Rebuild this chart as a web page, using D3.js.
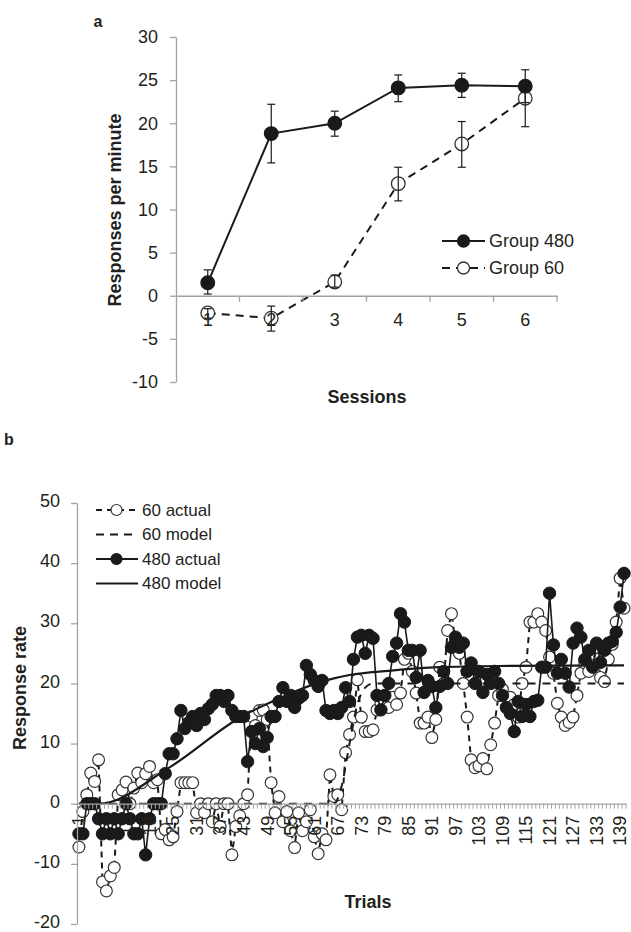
<!DOCTYPE html>
<html>
<head>
<meta charset="utf-8">
<script src="https://cdn.jsdelivr.net/npm/d3@7"></script>
<style>
body{margin:0;background:#fff;}
text{font-family:"Liberation Sans",Arial,sans-serif;fill:#231f20;}
</style>
</head>
<body>
<svg id="chart" width="631" height="932"></svg>
<script>
// panel a: session means with error bars
const sessions = [1, 2, 3, 4, 5, 6];
const g480Mean = [1.5, 18.8, 20.0, 24.1, 24.4, 24.3];
const g480Lo = [0.2, 15.4, 18.5, 22.5, 23.0, 22.4];
const g480Hi = [3.0, 22.2, 21.4, 25.6, 25.8, 26.2];
const g60Mean = [-2.0, -2.6, 1.6, 13.0, 17.6, 22.9];
const g60Lo = [-2.6, -4.1, 1.0, 11.0, 14.9, 19.6];
const g60Hi = [-1.5, -1.2, 2.4, 14.9, 20.2, 24.5];
const yTicksA = [-10, -5, 0, 5, 10, 15, 20, 25, 30];

// panel b: trial by trial
const trials = d3.range(1, 141);
const trialLabels = [1, 7, 13, 19, 25, 31, 37, 43, 49, 55, 61, 67, 73, 79, 85, 91, 97, 103, 109, 115, 121, 127, 133, 139];
const yTicksB = [-20, -10, 0, 10, 20, 30, 40, 50];
const act60 = [
  -7.2, -1.3, 1.5, 5.1, 3.7, 7.3, -13, -14.5, -12, -10.6,
  1.5, 2.3, 3.6, 0, 2.6, 5.1, 3.5, 5, 6.2, 3.5,
  4, -5, -4.3, -6, -5.5, -1.3, 3.5, 3.5, 3.5, 3.5,
  -1.5, 0, -1.5, 0, -3, 0, -3.8, 0, 0, -8.5,
  -3.8, -2, 0, 1.5, 14.5, 13, 15.5, 15.6, 14, 3.5,
  -1.5, 1.2, -3, -1.3, -4.5, -7.3, -1.5, -4.5, -3, -1,
  -5.5, -8.3, -5, -6, 4.8, 1.2, 1.5, -1, 8.5, 11.5,
  14.4, 20.6, 14.4, 12, 12, 12.3, 15.6, 16.7, 18, 16,
  17.7, 16.5, 18.4, 24, 25, 22, 18.4, 13.4, 13.4, 14.4,
  11, 14, 22.7, 20, 28.8, 31.6, 27, 25, 20, 14.4,
  7.3, 6, 6.3, 7.5, 5.8, 9.8, 13.4, 18, 19, 16,
  17.7, 16.5, 14.4, 20, 22.7, 30.2, 30.2, 31.6, 30.2, 28.8,
  24.4, 21.7, 16.7, 14.4, 13, 13.5, 14.4, 18, 21.7, 23.4,
  22, 23, 26, 21, 20.3, 24, 26.5, 30.2, 37.5, 32.5
];
const act480 = [
  -5, -5, 0, 0, 0, -2.5, -5, -2.5, -5, -2.5,
  -5, -2.5, 0, -2.5, -5, -5, -2.5, -8.5, -2.5, 0,
  0, 0, 5, 8.3, 8.3, 10.8, 15.5, 12.5, 13.5, 14.5,
  13, 15, 14, 15.8, 16.5, 18, 18, 17, 18, 15.5,
  14.5, 14.5, 14.5, 7, 12, 10, 12.5, 9.5, 11, 14.5,
  14.5, 17, 19.3, 17, 18, 16, 17.5, 18, 23, 21.5,
  20.5, 19.5, 20.5, 15.5, 15, 15.5, 15, 16, 19.3, 17,
  24, 27.7, 28, 25, 28, 27.5, 18, 15.6, 18, 20,
  24.5, 26.7, 31.6, 30.2, 25.5, 25.5, 21, 25.5, 18.5, 20.5,
  19.5, 16, 19.5, 22, 20, 26, 27.7, 26, 26.7, 22,
  23.4, 20, 22, 18.5, 21.5, 20, 22, 20, 18, 16,
  15, 12, 17, 14.5, 16.5, 14.5, 17, 17.2, 22.7, 22.7,
  35, 26.4, 21.7, 24, 21.7, 19.4, 26.7, 29.2, 27.7, 24,
  25.5, 22.7, 26.7, 23.5, 25.5, 26.7, 27, 28.5, 32.7, 38.3
];
// model curves, read at a few trials
const model60Trials = [1, 66, 68, 70, 72, 74, 76, 140];
const model60 = [0, 0, 3, 10, 16.5, 19.3, 20, 20];
const model480Trials = [1, 6, 24, 42, 52, 64, 70, 80, 93, 108, 140];
const model480 = [0, 0, 6, 14.3, 17.5, 20.5, 21.4, 22.1, 22.7, 22.9, 23];

const svg = d3.select("#chart");
const axisColor = "#a3a3a3";
const ink = "#1a1a1a";
const plain = d => String(d); // hyphen minus, as in the original

const styleAxis = g => {
    g.select(".domain").attr("stroke", axisColor).attr("stroke-width", 1.3);
    g.selectAll(".tick line").attr("stroke", axisColor).attr("stroke-width", 1.3);
    g.selectAll(".tick text").style("font-size", "18px").attr("fill", "#231f20");
};

// ---------- panel a ----------
const xA = d3.scaleBand().domain(sessions).range([176, 557]);
const yA = d3.scaleLinear().domain([-10, 30]).range([382, 37]);
const cxA = s => xA(s) + xA.bandwidth() / 2;

const groupsA = [
    {name: "Group 60", mean: g60Mean, lo: g60Lo, hi: g60Hi, dash: "8,6", filled: false},
    {name: "Group 480", mean: g480Mean, lo: g480Lo, hi: g480Hi, dash: null, filled: true}
];

groupsA.forEach(g => {
    const pts = sessions.map((s, i) => ({s, v: g.mean[i], lo: g.lo[i], hi: g.hi[i]}));
    svg.append("path")
        .datum(pts)
        .attr("fill", "none")
        .attr("stroke", ink)
        .attr("stroke-width", 2)
        .attr("stroke-dasharray", g.dash)
        .attr("d", d3.line().x(d => cxA(d.s)).y(d => yA(d.v)));

    svg.append("g").selectAll("circle")
        .data(pts)
        .join("circle")
        .attr("cx", d => cxA(d.s))
        .attr("cy", d => yA(d.v))
        .attr("r", 6.8)
        .attr("fill", g.filled ? ink : "#fff")
        .attr("stroke", g.filled ? ink : "#333")
        .attr("stroke-width", 1.3);

    const eb = svg.append("g").selectAll("g").data(pts).join("g").attr("stroke", ink).attr("stroke-width", 1.2);
    eb.append("line").attr("x1", d => cxA(d.s)).attr("x2", d => cxA(d.s)).attr("y1", d => yA(d.lo)).attr("y2", d => yA(d.hi));
    eb.append("line").attr("x1", d => cxA(d.s) - 4).attr("x2", d => cxA(d.s) + 4).attr("y1", d => yA(d.lo)).attr("y2", d => yA(d.lo));
    eb.append("line").attr("x1", d => cxA(d.s) - 4).attr("x2", d => cxA(d.s) + 4).attr("y1", d => yA(d.hi)).attr("y2", d => yA(d.hi));
});

// axes drawn over the marks, as in the original
svg.append("g")
    .attr("transform", "translate(176,0)")
    .call(d3.axisLeft(yA).tickValues(yTicksA).tickFormat(plain).tickSize(6).tickSizeOuter(0).tickPadding(12))
    .call(styleAxis);

svg.append("g")
    .attr("transform", `translate(0,${yA(0)})`)
    .call(d3.axisBottom(xA).tickSize(0).tickPadding(17))
    .call(styleAxis);

svg.append("g").selectAll("line")
    .data(sessions)
    .join("line")
    .attr("x1", s => xA(s) + xA.bandwidth())
    .attr("x2", s => xA(s) + xA.bandwidth())
    .attr("y1", yA(0))
    .attr("y2", yA(0) + 6)
    .attr("stroke", axisColor)
    .attr("stroke-width", 1.3);

// legend a
const legA = svg.append("g");
[groupsA[1], groupsA[0]].forEach((g, i) => {
    const y = 241 + i * 27;
    legA.append("line").attr("x1", 442).attr("x2", 485).attr("y1", y).attr("y2", y)
        .attr("stroke", ink).attr("stroke-width", 2).attr("stroke-dasharray", g.dash ? "8,6" : null);
    legA.append("circle").attr("cx", 463.5).attr("cy", y).attr("r", 6)
        .attr("fill", g.filled ? ink : "#fff").attr("stroke", g.filled ? ink : "#333").attr("stroke-width", 1.3);
    legA.append("text").attr("x", 489).attr("y", y).attr("dy", "0.35em")
        .style("font-size", "18px").text(g.name);
});

svg.append("text").attr("transform", "translate(115,210) rotate(-90)")
    .attr("text-anchor", "middle").attr("dy", "0.35em")
    .style("font-size", "18px").style("font-weight", "bold").text("Responses per minute");
svg.append("text").attr("x", 367).attr("y", 397).attr("text-anchor", "middle").attr("dy", "0.35em")
    .style("font-size", "18px").style("font-weight", "bold").text("Sessions");
svg.append("text").attr("x", 98).attr("y", 21).attr("text-anchor", "middle").attr("dy", "0.35em")
    .style("font-size", "16px").style("font-weight", "bold").text("a");

// ---------- panel b ----------
const xB = d3.scaleBand().domain(trials).range([77, 626]);
const yB = d3.scaleLinear().domain([-20, 50]).range([924, 503]);
const cxB = t => xB(t) + xB.bandwidth() / 2;

const seq = (xs, vs) => xs.map((t, i) => ({t, v: vs[i]}));
const lineB = d3.line().x(d => cxB(d.t)).y(d => yB(d.v));
const modelLine = d3.line().x(d => cxB(d.t)).y(d => yB(d.v)).curve(d3.curveMonotoneX);

// 60 actual
const pts60 = seq(trials, act60);
svg.append("path").datum(pts60)
    .attr("fill", "none").attr("stroke", ink).attr("stroke-width", 2)
    .attr("stroke-dasharray", "6,5").attr("d", lineB);
svg.append("g").selectAll("circle").data(pts60).join("circle")
    .attr("cx", d => cxB(d.t)).attr("cy", d => yB(d.v)).attr("r", 5.9)
    .attr("fill", "#fff").attr("stroke", "#333").attr("stroke-width", 1.2);

// 60 model
svg.append("path").datum(seq(model60Trials, model60))
    .attr("fill", "none").attr("stroke", ink).attr("stroke-width", 2)
    .attr("stroke-dasharray", "8,7").attr("d", modelLine);

// 480 actual
const pts480 = seq(trials, act480);
svg.append("path").datum(pts480)
    .attr("fill", "none").attr("stroke", ink).attr("stroke-width", 1.6).attr("d", lineB);
svg.append("g").selectAll("circle").data(pts480).join("circle")
    .attr("cx", d => cxB(d.t)).attr("cy", d => yB(d.v)).attr("r", 6.2)
    .attr("fill", ink).attr("stroke", ink).attr("stroke-width", 1);

// 480 model
svg.append("path").datum(seq(model480Trials, model480))
    .attr("fill", "none").attr("stroke", ink).attr("stroke-width", 2.2).attr("d", modelLine);

// axes b on top
svg.append("g")
    .attr("transform", "translate(77,0)")
    .call(d3.axisLeft(yB).tickValues(yTicksB).tickFormat(plain).tickSize(6).tickSizeOuter(0).tickPadding(11))
    .call(styleAxis)
    .selectAll(".tick text").attr("dy", "0.2em");

const xAxisB = svg.append("g")
    .attr("transform", `translate(0,${yB(0)})`)
    .call(d3.axisBottom(xB).tickValues(trialLabels).tickSize(0))
    .call(styleAxis);
xAxisB.selectAll(".tick text")
    .attr("transform", "rotate(-90)")
    .attr("text-anchor", "end")
    .attr("x", -12)
    .attr("y", 0)
    .attr("dy", "0.35em");

svg.append("g").selectAll("line")
    .data(trials)
    .join("line")
    .attr("x1", t => xB(t) + xB.bandwidth())
    .attr("x2", t => xB(t) + xB.bandwidth())
    .attr("y1", yB(0))
    .attr("y2", yB(0) + 5)
    .attr("stroke", axisColor)
    .attr("stroke-width", 1);

// legend b
const legendB = [
    {name: "60 actual", dash: "6,5", marker: "open"},
    {name: "60 model", dash: "8,6", marker: null},
    {name: "480 actual", dash: null, marker: "filled"},
    {name: "480 model", dash: null, marker: null}
];
const legB = svg.append("g");
legendB.forEach((d, i) => {
    const y = 510 + i * 24.5;
    legB.append("line").attr("x1", 96).attr("x2", 138).attr("y1", y).attr("y2", y)
        .attr("stroke", ink).attr("stroke-width", 2).attr("stroke-dasharray", d.dash);
    if (d.marker) {
        legB.append("circle").attr("cx", 116.5).attr("cy", y).attr("r", 5.5)
            .attr("fill", d.marker === "filled" ? ink : "#fff")
            .attr("stroke", d.marker === "filled" ? ink : "#333").attr("stroke-width", 1.2);
    }
    legB.append("text").attr("x", 142).attr("y", y).attr("dy", "0.35em")
        .style("font-size", "17px").text(d.name);
});

svg.append("text").attr("transform", "translate(20,688) rotate(-90)")
    .attr("text-anchor", "middle").attr("dy", "0.35em")
    .style("font-size", "18px").style("font-weight", "bold").text("Response rate");
svg.append("text").attr("x", 368).attr("y", 902).attr("text-anchor", "middle").attr("dy", "0.35em")
    .style("font-size", "18px").style("font-weight", "bold").text("Trials");
svg.append("text").attr("x", 9).attr("y", 439).attr("text-anchor", "middle").attr("dy", "0.35em")
    .style("font-size", "16px").style("font-weight", "bold").text("b");
</script>
</body>
</html>
